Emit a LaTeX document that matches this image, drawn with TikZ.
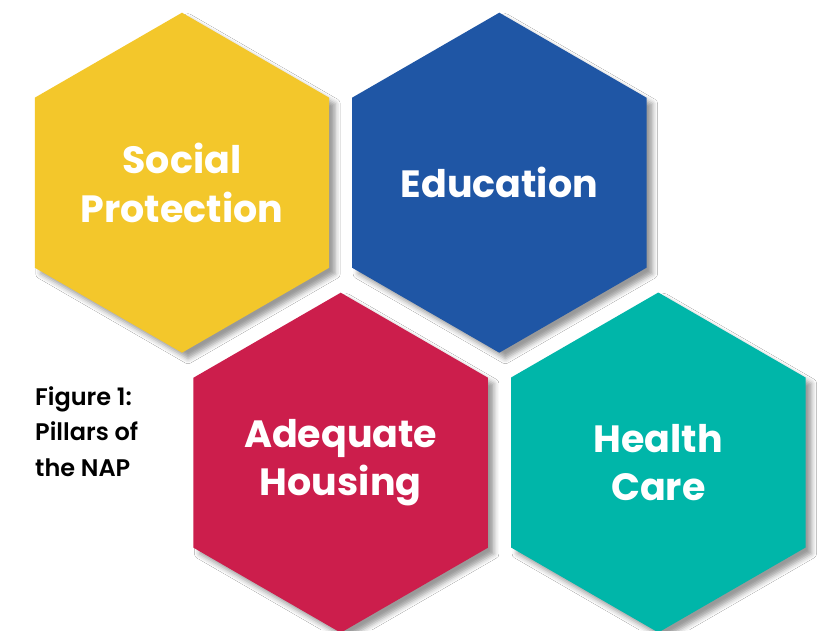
\documentclass[tikz,border=0pt]{standalone}
\usepackage{fontspec}
\setmainfont{Poppins}
\newfontfamily\capfont{Poppins SemiBold}
\usetikzlibrary{shapes.geometric,shadows.blur}
\definecolor{hexyellow}{HTML}{F3C72B}
\definecolor{hexblue}{HTML}{1F56A5}
\definecolor{hexred}{HTML}{CC1E4C}
\definecolor{hexteal}{HTML}{00B6A9}
\tikzset{
  hexbox/.style={regular polygon, regular polygon sides=6, regular polygon rotate=30,
    minimum size=340pt, inner sep=0pt, outer sep=0pt, text=white, align=center,
    font=\fontsize{38}{48.6}\selectfont\bfseries,
    blur shadow={shadow xshift=6pt, shadow yshift=-6pt, shadow blur radius=5pt, shadow opacity=40}},
  captext/.style={align=left, inner sep=0pt, text=black, font=\capfont\fontsize{24}{35.5}\selectfont}
}
\begin{document}
\begin{tikzpicture}[x=1pt,y=-1pt]
\useasboundingbox (0,0) rectangle (821,630);
\fill[white] (0,0) rectangle (821,630);
\node[hexbox, fill=hexyellow] (social) at (182,182.7) {Social\\Protection};
\node[hexbox, fill=hexblue] (edu) at (499.3,182.7) {Education};
\node[hexbox, fill=hexred] (housing) at (340.7,462.7) {Adequate\\Housing};
\node[hexbox, fill=hexteal] (health) at (658.3,462.5) {Health\\Care};
\node[captext, anchor=base west] (cap) at (35,476) {Figure 1:\\Pillars of\\the NAP};
\end{tikzpicture}
\end{document}
